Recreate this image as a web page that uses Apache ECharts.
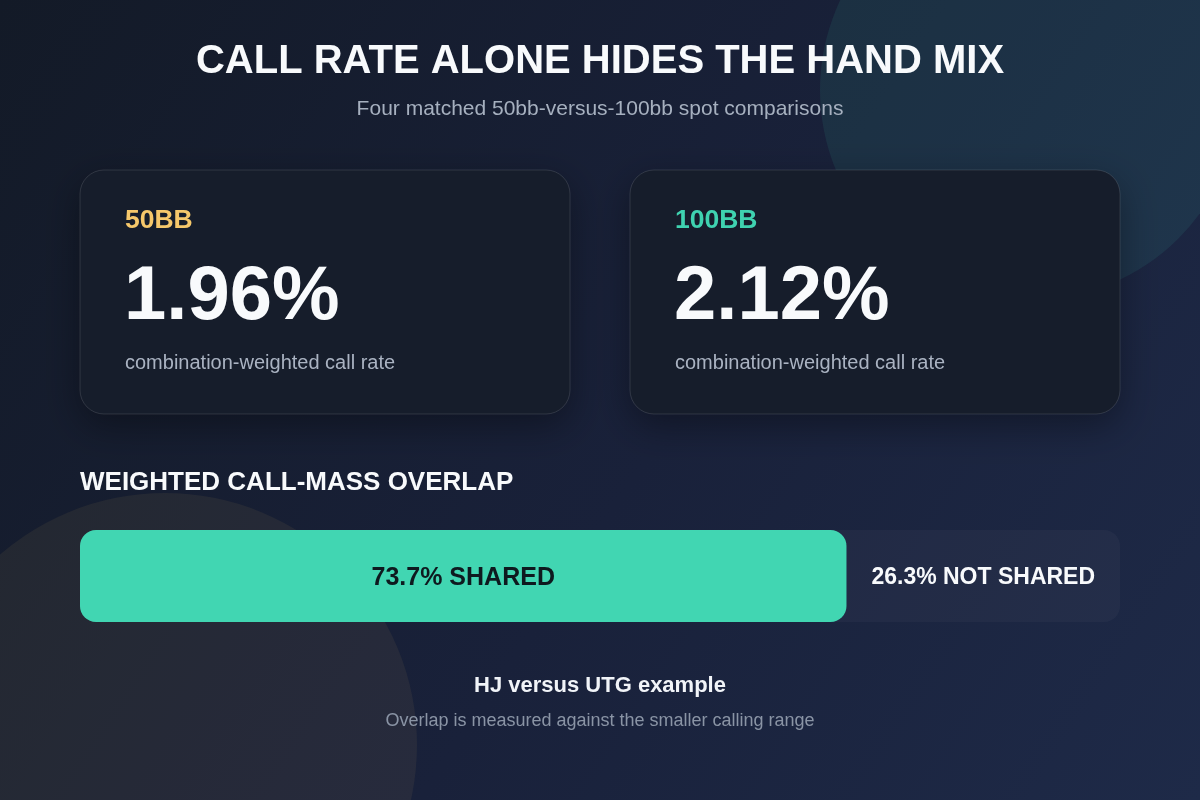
<!DOCTYPE html>
<html>
<head>
<meta charset="utf-8">
<script src="https://cdn.jsdelivr.net/npm/echarts@6/dist/echarts.min.js"></script>
<style>
  html, body { margin: 0; padding: 0; background: #161d2b; }
  #chart { width: 1200px; height: 800px; }
</style>
</head>
<body>
<div id="chart"></div>
<script>
// ---- data ----
const titleText = 'CALL RATE ALONE HIDES THE HAND MIX';
const subtitleText = 'Four matched 50bb-versus-100bb spot comparisons';
const stackLabels = ['50BB', '100BB'];
const callRates = [1.96, 2.12];
const callRateCaption = 'combination-weighted call rate';
const overlapHeading = 'WEIGHTED CALL-MASS OVERLAP';
const overlapCategories = ['HJ versus UTG'];
const sharedPct = [73.7];
const notSharedPct = [26.3];
const footerTitle = 'HJ versus UTG example';
const footerNote = 'Overlap is measured against the smaller calling range';

// ---- styles ----
const FONT = '"Liberation Sans", Arial, Helvetica, sans-serif';
const accents = ['#f6c86b', '#3fd2b0'];
const cardX = [80, 630];

const chart = echarts.init(document.getElementById('chart'), null, { renderer: 'canvas' });

function txt(x, y, text, size, weight, fill, align) {
  return {
    type: 'text', x: x, y: y, z: 5,
    style: {
      text: text, fill: fill,
      font: weight + ' ' + size + 'px ' + FONT,
      align: align || 'left', verticalAlign: 'middle',
      textAlign: align || 'left', textVerticalAlign: 'middle'
    }
  };
}

const graphics = [
  { type: 'rect', z: -10, silent: true, shape: { x: 0, y: 0, width: 1200, height: 800 },
    style: { fill: { type: 'linear', x: 0, y: 0, x2: 1, y2: 1, colorStops: [
      { offset: 0, color: '#131a27' }, { offset: 0.55, color: '#19213a' }, { offset: 1, color: '#1e2a48' } ] } } },
  { type: 'circle', z: -9, silent: true, shape: { cx: 1030, cy: 90, r: 210 },
    style: { fill: 'rgba(63,210,176,0.09)' } },
  { type: 'circle', z: -9, silent: true, shape: { cx: 165, cy: 745, r: 252 },
    style: { fill: 'rgba(246,200,107,0.065)' } },
  txt(600, 62, titleText, 40, 'bold', '#f8fafc', 'center'),
  txt(600, 109, subtitleText, 21, 'normal', '#a6b0bf', 'center')
];

stackLabels.forEach(function (lab, i) {
  const x0 = cardX[i];
  graphics.push({
    type: 'rect', z: 1, shape: { x: x0, y: 170, width: 490, height: 244, r: 24 },
    style: { fill: '#161d2b', stroke: 'rgba(255,255,255,0.12)', lineWidth: 1,
      shadowBlur: 36, shadowColor: 'rgba(0,0,0,0.35)', shadowOffsetY: 12 }
  });
  graphics.push(txt(x0 + 45, 221, lab, 26.5, 'bold', accents[i]));
  graphics.push(txt(x0 + 44, 298, callRates[i].toFixed(2) + '%', 76, 'bold', '#f8fafc'));
  graphics.push(txt(x0 + 45, 363, callRateCaption, 20, 'normal', '#aab3c2'));
});

graphics.push(txt(80, 483, overlapHeading, 26, 'bold', '#f8fafc'));
graphics.push(txt(600, 686, footerTitle, 22, 'bold', '#f1f4f8', 'center'));
graphics.push(txt(600, 721, footerNote, 18, 'normal', '#8a94a5', 'center'));

chart.setOption({
  backgroundColor: 'transparent',
  animation: false,
  graphic: graphics,
  grid: { left: 80, right: 80, top: 530, height: 92, containLabel: false },
  xAxis: { type: 'value', min: 0, max: 100, show: false },
  yAxis: { type: 'category', data: overlapCategories, show: false },
  series: [
    {
      name: 'Shared', type: 'bar', stack: 'overlap', data: sharedPct, barWidth: 92,
      showBackground: true,
      backgroundStyle: { color: 'rgba(255,255,255,0.03)', borderRadius: 16 },
      itemStyle: { color: '#41d6b2', borderRadius: 16 },
      label: { show: true, position: 'inside', offset: [0, 2], formatter: function (p) { return p.value + '% SHARED'; },
        color: '#0e1a1f', fontFamily: FONT, fontWeight: 'bold', fontSize: 25 }
    },
    {
      name: 'Not shared', type: 'bar', stack: 'overlap', data: notSharedPct, barWidth: 92,
      itemStyle: { color: 'rgba(0,0,0,0)' },
      label: { show: true, position: 'inside', offset: [0, 2], formatter: function (p) { return p.value + '% NOT SHARED'; },
        color: '#f8fafc', fontFamily: FONT, fontWeight: 'bold', fontSize: 23 }
    }
  ]
});
</script>
</body>
</html>
